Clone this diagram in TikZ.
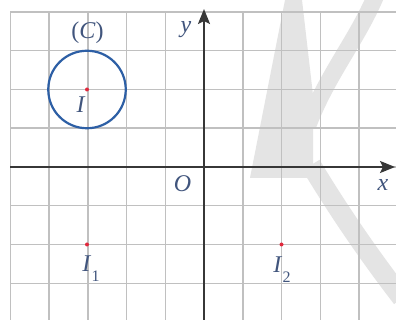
\documentclass[tikz,border=0pt]{standalone}
\usepackage{fontspec}
\setmainfont{Liberation Serif}
\usetikzlibrary{arrows.meta}
\definecolor{gridc}{RGB}{192,192,192}
\definecolor{axisc}{RGB}{55,55,55}
\definecolor{circc}{RGB}{45,95,165}
\definecolor{labc}{RGB}{65,85,125}
\definecolor{dotc}{RGB}{225,40,60}
\definecolor{wmc}{RGB}{228,228,228}
\newcommand{\subn}[1]{\kern0.5pt\raisebox{-10pt}{\fontsize{16}{16}\selectfont #1}}
\begin{document}
\begin{tikzpicture}[x=1pt,y=-1pt,
 lab/.style={text=labc,font=\fontsize{24}{28}\selectfont,inner sep=0pt},
 dot/.style={circle,fill=dotc,inner sep=0pt,minimum size=4pt},
 axis/.style={draw=axisc,line width=2.2pt,-{Stealth[length=15pt,width=12pt,inset=3pt]}},
 gridline/.style={draw=gridc,line width=1.5pt}]
\useasboundingbox (0,0) rectangle (396,320);
\fill[white] (0,0) rectangle (396,320);
% watermark
\fill[wmc] (285,0) -- (302,0) -- (313,95) -- (313,178) -- (250,178) -- cycle;
\draw[wmc,line width=17pt] (376,-5) .. controls (357,40) and (327,75) .. (308,125);
\draw[wmc,line width=20pt] (311,165) .. controls (335,205) and (365,250) .. (402,298);
% grid
\foreach \k in {-5,...,4} \draw[gridline] (204+\k*38.75,12) -- (204+\k*38.75,320);
\foreach \k in {-4,...,3} \draw[gridline] (10.25,167+\k*38.75) -- (396,167+\k*38.75);
% axes
\coordinate (xs) at (10.25,167);
\coordinate (xe) at (395,167);
\coordinate (ys) at (204,320);
\coordinate (ye) at (204,9);
\draw[axis] (xs) -- (xe);
\draw[axis] (ys) -- (ye);
% circle
\node[draw=circc,line width=2.2pt,circle,minimum size=77.5pt,inner sep=0pt] (C) at (87,89.5) {};
\node[dot] (I) at (87,89.5) {};
\node[dot] (I1) at (87,244.5) {};
\node[dot] (I2) at (281.5,244.5) {};
% labels
\node[lab] (lC) at (87.5,33) {(\textit{C})};
\node[lab] (ly) at (186,30) {\textit{y}};
\node[lab] (lI) at (81,105) {\textit{I}};
\node[lab] (lO) at (182.5,184) {\textit{O}};
\node[lab] (lx) at (383,185) {\textit{x}};
\node[lab] (lI1) at (91,269) {\textit{I}\subn{1}};
\node[lab] (lI2) at (282,270) {\textit{I}\subn{2}};
\end{tikzpicture}
\end{document}
